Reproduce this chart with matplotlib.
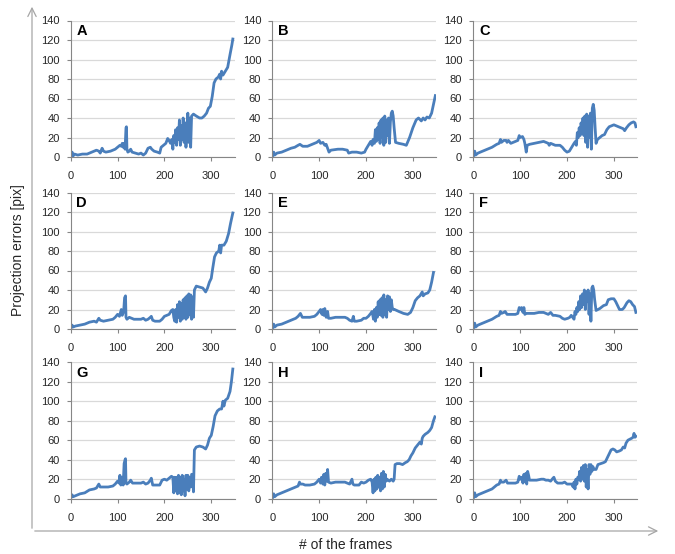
import matplotlib
matplotlib.use("Agg")
import matplotlib.pyplot as plt
from matplotlib.ticker import MultipleLocator

plt.rcParams['font.family'] = ['Liberation Sans', 'DejaVu Sans']

# ---- per-panel frame indices and projection errors [pix] ----
a_frames = [0, 3, 5, 8, 15, 25, 35, 45, 55, 60, 63, 67, 70, 75, 85, 95, 100, 105, 108, 110, 112, 114, 116, 118, 119, 120, 122, 125, 128, 131, 138, 145, 150, 155, 160, 165, 170, 173, 178, 185, 190, 193, 198, 203, 207, 210, 213, 216, 218, 220, 222, 224, 226, 228, 230, 232, 234, 236, 238, 240, 242, 244, 246, 248, 250, 252, 254, 256, 258, 262, 268, 275, 280, 285, 290, 294, 298, 302, 306, 310, 315, 318, 320, 322, 325, 330, 335, 340, 344, 346]
a_errors = [0, 5, 1, 3, 2, 3, 3, 5, 7, 6, 4, 9, 6, 5, 6, 8, 10, 12, 11, 14, 10, 14, 8, 30, 31, 8, 5, 6, 8, 5, 4, 3, 4, 2, 4, 9, 10, 8, 6, 5, 4, 10, 12, 14, 19, 17, 14, 18, 8, 22, 15, 28, 12, 30, 18, 38, 12, 32, 18, 40, 15, 35, 10, 30, 45, 15, 40, 10, 42, 44, 42, 40, 40, 42, 45, 50, 52, 62, 76, 80, 82, 85, 80, 88, 84, 88, 92, 105, 115, 121]

b_frames = [0, 3, 5, 10, 20, 30, 40, 48, 55, 59, 65, 75, 85, 95, 100, 103, 108, 112, 115, 121, 125, 140, 150, 160, 163, 170, 180, 190, 197, 200, 205, 210, 213, 215, 218, 220, 222, 224, 226, 228, 230, 232, 234, 236, 238, 240, 242, 244, 246, 248, 250, 252, 254, 256, 258, 260, 263, 270, 280, 286, 293, 300, 307, 312, 318, 322, 326, 330, 335, 340, 344, 348]
b_errors = [0, 5, 2, 4, 5, 7, 9, 10, 12, 13, 11, 11, 13, 15, 17, 14, 15, 12, 13, 5, 7, 8, 8, 7, 4, 5, 5, 4, 5, 8, 12, 16, 12, 18, 14, 28, 16, 30, 18, 35, 14, 38, 20, 40, 12, 42, 15, 38, 22, 40, 14, 36, 45, 47, 42, 30, 15, 14, 13, 12, 20, 30, 38, 40, 37, 40, 38, 41, 40, 45, 54, 63]

c_frames = [0, 3, 5, 10, 20, 30, 40, 50, 55, 58, 60, 65, 70, 72, 75, 80, 90, 95, 98, 100, 105, 108, 110, 113, 115, 120, 130, 140, 150, 155, 160, 162, 165, 175, 185, 190, 195, 200, 205, 210, 215, 218, 220, 222, 224, 226, 228, 230, 232, 234, 236, 238, 240, 242, 244, 246, 248, 250, 252, 254, 256, 258, 260, 262, 265, 270, 275, 280, 285, 290, 295, 300, 305, 310, 315, 320, 323, 327, 332, 337, 342, 345, 347]
c_errors = [0, 6, 2, 4, 6, 8, 10, 13, 14, 18, 15, 17, 17, 15, 17, 14, 16, 17, 22, 20, 21, 18, 14, 5, 12, 13, 14, 15, 16, 15, 14, 12, 14, 12, 12, 10, 7, 5, 6, 10, 14, 16, 12, 25, 20, 30, 22, 35, 25, 40, 22, 42, 15, 44, 10, 42, 20, 45, 8, 50, 54, 48, 30, 14, 18, 20, 22, 23, 28, 31, 32, 33, 32, 31, 30, 29, 27, 30, 33, 35, 36, 35, 31]

d_frames = [0, 3, 5, 10, 20, 30, 40, 50, 55, 60, 63, 70, 80, 90, 95, 100, 104, 108, 110, 113, 115, 117, 118, 120, 125, 130, 135, 145, 150, 155, 160, 165, 170, 172, 175, 180, 190, 195, 200, 205, 210, 215, 218, 220, 222, 224, 226, 228, 230, 232, 234, 236, 238, 240, 242, 244, 246, 248, 250, 252, 254, 256, 258, 260, 262, 264, 268, 275, 282, 288, 292, 296, 300, 303, 307, 311, 316, 318, 320, 322, 327, 332, 337, 341, 346]
d_errors = [0, 4, 2, 3, 4, 5, 7, 8, 7, 11, 9, 8, 9, 10, 12, 15, 13, 20, 14, 18, 32, 34, 12, 10, 12, 11, 10, 10, 10, 11, 9, 10, 12, 13, 9, 8, 8, 10, 13, 14, 15, 19, 20, 12, 8, 20, 7, 25, 12, 28, 8, 26, 10, 30, 12, 32, 10, 34, 12, 36, 15, 35, 10, 33, 12, 40, 44, 43, 42, 38, 42, 48, 52, 62, 74, 78, 80, 86, 78, 86, 86, 90, 98, 108, 119]

e_frames = [0, 3, 5, 10, 20, 30, 40, 50, 55, 60, 64, 70, 80, 90, 95, 100, 103, 106, 108, 110, 112, 115, 118, 120, 125, 135, 145, 155, 160, 165, 170, 173, 175, 180, 190, 195, 200, 205, 210, 213, 216, 218, 220, 222, 224, 226, 228, 230, 232, 234, 236, 238, 240, 242, 244, 246, 248, 250, 252, 254, 256, 258, 261, 270, 280, 289, 295, 300, 305, 310, 315, 320, 322, 326, 332, 336, 340, 344]
e_errors = [0, 5, 2, 4, 5, 7, 9, 11, 13, 16, 12, 12, 12, 13, 15, 18, 20, 15, 20, 14, 21, 12, 18, 11, 11, 12, 12, 12, 11, 9, 8, 13, 8, 8, 9, 11, 11, 13, 16, 18, 10, 20, 8, 22, 12, 28, 15, 30, 14, 32, 12, 35, 15, 30, 12, 34, 20, 33, 18, 30, 22, 20, 20, 18, 16, 15, 17, 22, 29, 32, 34, 38, 34, 36, 37, 40, 48, 58]

f_frames = [0, 3, 5, 10, 20, 30, 40, 50, 55, 58, 60, 65, 68, 72, 80, 90, 95, 98, 100, 103, 106, 108, 110, 113, 120, 130, 140, 150, 155, 160, 165, 170, 175, 185, 190, 195, 202, 206, 209, 212, 215, 217, 219, 221, 223, 225, 227, 229, 231, 233, 235, 237, 239, 241, 243, 245, 247, 249, 251, 253, 255, 257, 259, 262, 270, 278, 284, 288, 294, 300, 304, 308, 312, 318, 322, 328, 332, 336, 340, 344, 347]
f_errors = [0, 6, 2, 4, 6, 8, 10, 13, 14, 18, 16, 17, 18, 15, 15, 15, 16, 22, 20, 22, 17, 22, 15, 16, 16, 16, 17, 17, 16, 15, 17, 14, 14, 13, 11, 10, 11, 12, 14, 12, 10, 18, 15, 22, 18, 28, 20, 34, 22, 36, 25, 40, 20, 38, 28, 40, 15, 36, 8, 42, 44, 40, 30, 19, 21, 24, 25, 30, 31, 31, 28, 24, 20, 20, 22, 27, 29, 28, 25, 23, 17]

g_frames = [0, 3, 5, 10, 20, 30, 40, 50, 55, 60, 63, 70, 80, 90, 95, 100, 103, 105, 107, 110, 112, 114, 116, 117, 118, 120, 125, 128, 132, 140, 150, 155, 160, 165, 170, 172, 175, 180, 190, 195, 200, 205, 210, 215, 218, 220, 222, 224, 226, 228, 230, 232, 234, 236, 238, 240, 242, 244, 246, 248, 250, 252, 254, 256, 258, 260, 262, 264, 268, 275, 282, 288, 292, 296, 300, 304, 308, 313, 318, 322, 325, 327, 330, 335, 340, 343, 346]
g_errors = [0, 4, 2, 3, 5, 6, 9, 10, 11, 15, 12, 12, 12, 13, 15, 18, 16, 24, 14, 22, 14, 36, 40, 41, 16, 15, 17, 19, 16, 16, 16, 17, 15, 16, 19, 21, 14, 14, 14, 19, 20, 19, 21, 23, 22, 6, 22, 8, 22, 5, 24, 6, 22, 4, 24, 8, 20, 3, 24, 10, 24, 8, 22, 12, 25, 25, 7, 50, 53, 54, 53, 51, 55, 62, 65, 74, 85, 90, 92, 92, 100, 95, 101, 103, 110, 120, 133]

h_frames = [0, 3, 5, 10, 20, 30, 40, 50, 55, 58, 60, 65, 70, 80, 90, 95, 100, 103, 105, 108, 110, 112, 114, 116, 118, 120, 125, 135, 145, 155, 160, 165, 170, 172, 175, 185, 190, 195, 200, 205, 210, 213, 215, 217, 219, 221, 223, 225, 227, 229, 231, 233, 235, 237, 239, 241, 243, 245, 250, 254, 258, 260, 262, 266, 272, 278, 284, 288, 292, 296, 300, 305, 310, 315, 318, 320, 322, 326, 332, 336, 340, 344, 347]
h_errors = [0, 5, 2, 4, 6, 8, 10, 12, 13, 17, 15, 15, 14, 14, 15, 17, 20, 16, 22, 15, 25, 14, 26, 18, 30, 17, 16, 17, 17, 17, 16, 15, 20, 15, 14, 14, 17, 16, 17, 19, 20, 17, 6, 20, 8, 22, 10, 24, 12, 22, 8, 26, 10, 28, 12, 25, 18, 20, 18, 20, 18, 20, 35, 36, 36, 35, 37, 38, 40, 44, 47, 52, 55, 58, 56, 62, 64, 66, 68, 70, 73, 80, 84]

i_frames = [0, 3, 5, 10, 20, 30, 40, 50, 55, 58, 60, 65, 70, 73, 80, 90, 95, 98, 100, 103, 106, 108, 110, 112, 114, 116, 118, 120, 125, 135, 145, 150, 155, 160, 165, 170, 172, 175, 180, 190, 195, 200, 205, 210, 213, 215, 217, 219, 221, 223, 225, 227, 229, 231, 233, 235, 237, 239, 241, 243, 245, 247, 249, 251, 253, 255, 258, 262, 266, 272, 278, 282, 286, 290, 294, 298, 302, 306, 312, 316, 320, 323, 326, 330, 334, 338, 341, 343, 345, 347]
i_errors = [0, 6, 2, 4, 6, 8, 10, 14, 15, 19, 17, 17, 19, 16, 16, 16, 17, 23, 20, 22, 16, 25, 18, 26, 15, 28, 24, 19, 19, 19, 20, 20, 19, 19, 18, 21, 22, 18, 16, 16, 17, 15, 15, 15, 12, 17, 10, 20, 15, 22, 20, 28, 18, 32, 20, 34, 18, 35, 12, 30, 10, 35, 25, 35, 28, 33, 30, 30, 35, 36, 37, 38, 42, 46, 50, 51, 50, 48, 49, 50, 53, 52, 57, 60, 61, 62, 63, 67, 63, 64]

panel_labels = ['A', 'B', 'C', 'D', 'E', 'F', 'G', 'H', 'I']
panel_data = [
    (a_frames, a_errors), (b_frames, b_errors), (c_frames, c_errors),
    (d_frames, d_errors), (e_frames, e_errors), (f_frames, f_errors),
    (g_frames, g_errors), (h_frames, h_errors), (i_frames, i_errors),
]
x_ticks = [0, 100, 200, 300]
y_ticks = [0, 20, 40, 60, 80, 100, 120, 140]

W, H = 675, 554
fig = plt.figure(figsize=(W / 100, H / 100), dpi=100)

col_left = [70.7, 272.3, 473.3]      # pixel x of each column's y-axis
col_width = 164.0
row_bottom = [157.0, 329.0, 498.7]   # pixel y (from top) of each row's x-axis
row_height = 136.5

line_color = '#4A7EBB'
axis_gray = '#868686'
grid_gray = '#D9D9D9'
text_col = '#262626'

for k, ((fx, fy), lab) in enumerate(zip(panel_data, panel_labels)):
    r, c = divmod(k, 3)
    left = col_left[c] / W
    bottom = (H - row_bottom[r]) / H
    ax = fig.add_axes([left, bottom, col_width / W, row_height / H])
    ax.plot(fx, fy, color=line_color, lw=2.0, solid_joinstyle='round')
    ax.set_xlim(0, 350)
    ax.set_ylim(0, 140)
    ax.set_xticks(x_ticks)
    ax.set_yticks(y_ticks)
    ax.xaxis.set_minor_locator(MultipleLocator(50))
    ax.yaxis.grid(True, color=grid_gray, lw=0.9)
    ax.set_axisbelow(True)
    for s in ('top', 'right'):
        ax.spines[s].set_visible(False)
    for s in ('left', 'bottom'):
        ax.spines[s].set_color(axis_gray)
        ax.spines[s].set_linewidth(0.8)
    ax.tick_params(axis='both', which='major', direction='out', length=3,
                   width=0.8, color=axis_gray, labelsize=8,
                   labelcolor=text_col, pad=5)
    ax.tick_params(axis='x', which='minor', length=0)
    ax.tick_params(axis='x', pad=7)
    ax.text(0.035, 0.975, lab, transform=ax.transAxes, ha='left', va='top',
            fontsize=10.5, fontweight='bold', color='black')

# Outer arrows framing the grid of panels
fig.add_artist(matplotlib.patches.FancyArrowPatch(
    (32 / W, (H - 531) / H), (32 / W, (H - 4) / H),
    transform=fig.transFigure, arrowstyle='->,head_length=6,head_width=3',
    color='#A6A6A6', lw=0.9, mutation_scale=1))
fig.add_artist(matplotlib.patches.FancyArrowPatch(
    (32 / W, (H - 531) / H), (661 / W, (H - 531) / H),
    transform=fig.transFigure, arrowstyle='->,head_length=6,head_width=3',
    color='#A6A6A6', lw=0.9, mutation_scale=1))

fig.text(18 / W, (H - 250) / H, 'Projection errors [pix]', rotation=90,
         ha='center', va='center', fontsize=10, color=text_col)
fig.text(346 / W, (H - 545) / H, '# of the frames', ha='center', va='center',
         fontsize=10, color=text_col)

fig.savefig('out.png', dpi=100)
